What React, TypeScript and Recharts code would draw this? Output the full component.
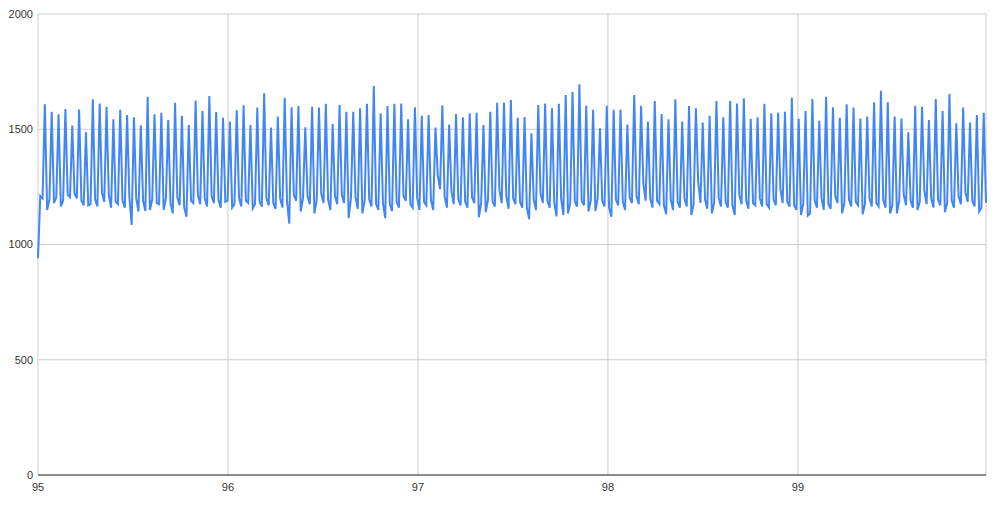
import React from 'react'
import { LineChart, Line, XAxis, YAxis, CartesianGrid } from 'recharts'

// values
const startValue = 940
const leadIn = [1210, 1200]
const endValue = 1181

// spike tops, left to right
const peaks = [
  1608, 1576, 1565, 1588, 1516, 1586, 1487, 1630, 1612, 1598, 1543, 1584, 1562, 1552, 1517, 1641,
  1565, 1572, 1540, 1615, 1558, 1518, 1625, 1579, 1644, 1575, 1550, 1533, 1582, 1604, 1518,
  1594, 1656, 1508, 1555, 1637, 1595, 1601, 1508, 1598, 1594, 1610, 1523, 1605, 1576, 1576, 1591,
  1610, 1688, 1569, 1601, 1610, 1612, 1543, 1595, 1559, 1562, 1507, 1604, 1521, 1566, 1552, 1569,
  1572, 1518, 1576, 1615, 1615, 1627, 1550, 1553, 1482, 1605, 1612, 1591, 1611, 1649, 1663,
  1695, 1602, 1584, 1504, 1602, 1584, 1586, 1521, 1649, 1602, 1533, 1623, 1566, 1543, 1630, 1533,
  1601, 1591, 1529, 1559, 1623, 1552, 1623, 1612, 1634, 1545, 1552, 1610, 1569, 1572, 1576, 1637,
  1545, 1579, 1631, 1537, 1641, 1595, 1550, 1608, 1594, 1547, 1555, 1617, 1667, 1617, 1555,
  1547, 1487, 1602, 1598, 1540, 1631, 1579, 1653, 1526, 1594, 1529, 1562, 1572
]

// value just after each spike
const dropLows = [
  1150, 1180, 1165, 1215, 1220, 1190, 1170, 1195, 1225, 1215, 1185, 1190, 1205, 1200, 1190, 1150,
  1180, 1150, 1180, 1205, 1160, 1190, 1215, 1200, 1210, 1195, 1185, 1160, 1200, 1190, 1157,
  1185, 1200, 1180, 1200, 1190, 1215, 1143, 1210, 1135, 1220, 1195, 1210, 1215, 1114, 1205, 1135,
  1195, 1175, 1180, 1175, 1185, 1210, 1175, 1200, 1185, 1195, 1300, 1210, 1230, 1195, 1185, 1205,
  1118, 1140, 1185, 1235, 1210, 1200, 1185, 1160, 1195, 1220, 1190, 1180, 1200, 1135, 1185,
  1190, 1143, 1145, 1190, 1160, 1195, 1185, 1205, 1210, 1265, 1200, 1190, 1170, 1195, 1185, 1200,
  1128, 1273, 1195, 1135, 1200, 1185, 1170, 1215, 1190, 1180, 1200, 1175, 1195, 1240, 1185, 1170,
  1128, 1125, 1190, 1200, 1175, 1210, 1135, 1195, 1185, 1131, 1200, 1180, 1195, 1135, 1135,
  1215, 1190, 1150, 1235, 1200, 1195, 1140, 1190, 1210, 1225, 1190, 1143
]

// value just before the next spike
const preLows = [
  1195, 1205, 1190, 1205, 1200, 1170, 1175, 1165, 1185, 1160, 1175, 1160, 1085, 1143, 1145, 1195,
  1175, 1200, 1135, 1170, 1120, 1180, 1175, 1165, 1180, 1160, 1190, 1175, 1165, 1180, 1175,
  1164, 1170, 1155, 1160, 1090, 1190, 1200, 1175, 1190, 1180, 1150, 1175, 1180, 1200, 1155, 1190,
  1165, 1150, 1115, 1145, 1160, 1190, 1160, 1150, 1170, 1150, 1240, 1160, 1175, 1170, 1160, 1180,
  1180, 1195, 1165, 1180, 1155, 1175, 1160, 1110, 1150, 1180, 1160, 1122, 1128, 1180, 1165,
  1170, 1190, 1200, 1165, 1120, 1170, 1150, 1180, 1175, 1190, 1160, 1175, 1131, 1150, 1160, 1165,
  1175, 1180, 1155, 1180, 1165, 1160, 1128, 1175, 1155, 1170, 1165, 1160, 1170, 1180, 1165, 1150,
  1175, 1135, 1160, 1150, 1155, 1180, 1180, 1165, 1170, 1175, 1165, 1165, 1160, 1170, 1190,
  1170, 1160, 1185, 1175, 1160, 1170, 1180, 1160, 1175, 1185, 1165, 1160
]

const xTicks = [95, 96, 97, 98, 99]
const yTicks = [0, 500, 1000, 1500, 2000]
const X_START = 95
const X_END = 99.99

const values: number[] = [startValue, ...leadIn]
peaks.forEach((p, k) => {
  values.push(p)
  if (k < dropLows.length) values.push(dropLows[k], preLows[k])
})
values.push(endValue)

const data = values.map((v, i) => ({
  x: X_START + ((X_END - X_START) * i) / (values.length - 1),
  v
}))

const tickStyle = { fontSize: 11, fill: '#333', fontFamily: 'Liberation Sans, Arial, sans-serif' }

export default function App() {
  return (
    <div style={{ position: 'absolute', left: 0, top: 0, width: 1000, height: 506, background: '#fff' }}>
      <LineChart width={1000} height={506} data={data} margin={{ top: 14, right: 14, bottom: 0, left: 0 }}>
        <CartesianGrid stroke="#cccccc" />
        <XAxis
          dataKey="x"
          type="number"
          domain={[X_START, X_END]}
          ticks={xTicks}
          height={31}
          tickLine={false}
          axisLine={{ stroke: '#333' }}
          tick={tickStyle}
        />
        <YAxis
          domain={[0, 2000]}
          ticks={yTicks}
          width={38}
          axisLine={false}
          tickLine={false}
          tickSize={3}
          tickMargin={2}
          tick={tickStyle}
        />
        <Line
          type="linear"
          dataKey="v"
          stroke="#4285f4"
          strokeWidth={2}
          dot={false}
          isAnimationActive={false}
        />
      </LineChart>
    </div>
  )
}
